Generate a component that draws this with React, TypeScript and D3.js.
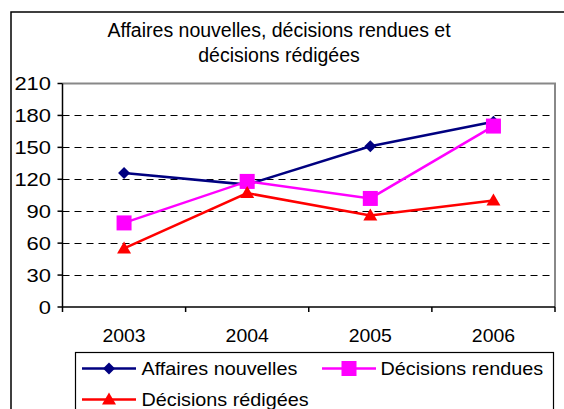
import React from "react";
import * as d3 from "d3";

const categories = ["2003", "2004", "2005", "2006"];
const affaires = [126, 115, 151, 174];
const rendues = [79, 118, 102, 170];
const redigees = [55, 107, 86, 100];
const yTicks = [0, 30, 60, 90, 120, 150, 180, 210];
const titleLines = ["Affaires nouvelles, décisions rendues et", "décisions rédigées"];

const series = [
  { name: "Affaires nouvelles", values: affaires, color: "#000080", marker: "diamond" },
  { name: "Décisions rendues", values: rendues, color: "#FF00FF", marker: "square" },
  { name: "Décisions rédigées", values: redigees, color: "#FF0000", marker: "triangle" },
];

const W = 564, H = 409;
const L = 62.5, R = 555, T = 83.5, B = 307;
const FONT = "'Liberation Sans', Arial, sans-serif";

function Marker({ type, x, y, color }: { type: string; x: number; y: number; color: string }) {
  if (type === "diamond") {
    const s = 6;
    return <path d={`M${x},${y - s}L${x + s},${y}L${x},${y + s}L${x - s},${y}Z`} fill={color} />;
  }
  if (type === "square") {
    const s = 7.5;
    return <rect x={x - s} y={y - s} width={2 * s} height={2 * s} fill={color} />;
  }
  const s = 7;
  return <path d={`M${x},${y - 7}L${x + s},${y + 5}L${x - s},${y + 5}Z`} fill={color} />;
}

function SText({ x, y, sx, size, anchor, children }: { x: number; y: number; sx: number; size: number; anchor?: string; children: React.ReactNode }) {
  return (
    <text
      transform={`translate(${x},${y}) scale(${sx},1)`}
      textAnchor={anchor || "start"}
      fontFamily={FONT}
      fontSize={size}
      fill="#000"
    >
      {children}
    </text>
  );
}

export default function App() {
  const x = d3.scaleBand<string>().domain(categories).range([L, R]);
  const y = d3.scaleLinear().domain([0, 210]).range([B, T]);
  const cx = (c: string) => (x(c) as number) + x.bandwidth() / 2;
  const line = d3.line<number>().x((_, i) => cx(categories[i])).y((d) => y(d));

  const legendItems = [
    { s: series[0], lx: 82, ly: 368.5, tx: 141.5 },
    { s: series[1], lx: 322, ly: 368.5, tx: 380.5 },
    { s: series[2], lx: 82, ly: 399.5, tx: 141.5 },
  ];

  return (
    <svg width={W} height={H} style={{ position: "absolute", left: 0, top: 0 }}>
      <rect x={0} y={0} width={W} height={H} fill="#fff" />
      <rect x={11} y={12} width={W} height={H} fill="none" stroke="#000" strokeWidth={1.5} />
      {titleLines.map((t, i) => (
        <SText key={i} x={279} y={37 + i * 25} sx={1.0} size={19.5} anchor="middle">
          {t}
        </SText>
      ))}
      {yTicks.filter((v) => v > 0 && v < 210).map((v) => (
        <line key={v} x1={L} x2={R} y1={Math.round(y(v)) + 0.5} y2={Math.round(y(v)) + 0.5} stroke="#000" strokeWidth={1} strokeDasharray="7,5" />
      ))}
      <path d={`M${L},${T}H${R}V${B}`} fill="none" stroke="#888" strokeWidth={2} />
      <line x1={L} x2={L} y1={T} y2={B} stroke="#000" strokeWidth={1.5} />
      <line x1={L} x2={R} y1={B} y2={B} stroke="#000" strokeWidth={1.5} />
      {yTicks.map((v) => (
        <g key={v}>
          <line x1={L - 5} x2={L} y1={y(v)} y2={y(v)} stroke="#000" strokeWidth={1.5} />
          <SText x={51} y={y(v) + 6.5} sx={1.22} size={18} anchor="end">
            {v}
          </SText>
        </g>
      ))}
      {categories.map((c, i) => (
        <line key={"t" + i} x1={x(c) as number} x2={x(c) as number} y1={B} y2={B + 5} stroke="#000" strokeWidth={1.5} />
      ))}
      <line x1={R} x2={R} y1={B} y2={B + 5} stroke="#000" strokeWidth={1.5} />
      {categories.map((c) => (
        <SText key={c} x={cx(c)} y={342} sx={1.08} size={18} anchor="middle">
          {c}
        </SText>
      ))}
      {series.map((s) => (
        <g key={s.name}>
          <path d={line(s.values) as string} fill="none" stroke={s.color} strokeWidth={2.5} />
          {s.values.map((v, i) => (
            <Marker key={i} type={s.marker} x={cx(categories[i])} y={y(v)} color={s.color} />
          ))}
        </g>
      ))}
      <rect x={75.5} y={352.5} width={478} height={80} fill="#fff" stroke="#000" strokeWidth={1.2} />
      {legendItems.map(({ s, lx, ly, tx }) => (
        <g key={s.name}>
          <line x1={lx} x2={lx + 54} y1={ly} y2={ly} stroke={s.color} strokeWidth={2.5} />
          <Marker type={s.marker} x={lx + 27} y={ly} color={s.color} />
          <SText x={tx} y={ly + 6} sx={1.1} size={18}>
            {s.name}
          </SText>
        </g>
      ))}
    </svg>
  );
}
